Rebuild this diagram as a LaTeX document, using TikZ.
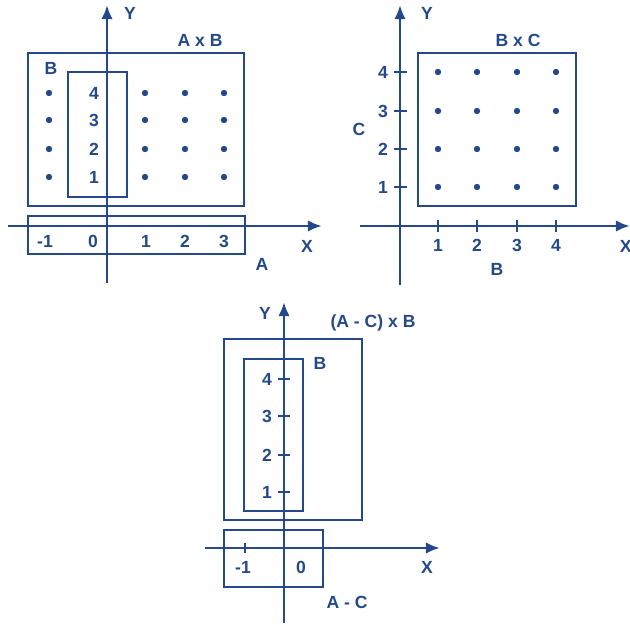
\documentclass[tikz,border=0pt]{standalone}
\usepackage{fontspec}
\setmainfont{Liberation Sans}
\usetikzlibrary{arrows.meta}
\definecolor{inkblue}{HTML}{23498C}
\tikzset{
  axis/.style={-{Latex[length=8pt,width=6.5pt]}, line width=1.5pt, draw=inkblue},
  setbox/.style={draw=inkblue, line width=1.5pt},
  tickmark/.style={draw=inkblue, line width=1.3pt},
  lbl/.style={text=inkblue, font=\fontsize{10}{12}\selectfont\bfseries, inner sep=0pt},
  dot/.style={fill=inkblue}
}

\begin{document}
\begin{tikzpicture}[x=0.02cm, y=-0.02cm]
  \useasboundingbox (0,0) rectangle (630,625);

  % A x B
  \draw[setbox] (28,53) rectangle (244,206);
  \draw[setbox] (68,72) rectangle (127,197);
  \draw[setbox] (28,216) rectangle (245,254);
  \coordinate (xs1) at (8,226);
  \coordinate (xe1) at (322,226);
  \coordinate (ys1) at (107,283);
  \coordinate (ye1) at (107,5);
  \draw[axis] (xs1) -- (xe1);
  \draw[axis] (ys1) -- (ye1);
  \node[lbl] (yname1) at (130,13) {Y};
  \node[lbl] (xname1) at (307,246) {X};
  \node[lbl] (axb) at (200,40) {A x B};
  \node[lbl] (bname1) at (51,68) {B};
  \node[lbl] (aname1) at (262,264) {A};
  \foreach \v/\y in {4/93,3/120,2/149,1/177}
    \node[lbl] (b\v) at (94,\y) {\v};
  \foreach \v/\x in {-1/45,0/93,1/146,2/185,3/224}
    \node[lbl] (a\v) at (\x,241) {\v};
  \foreach \x in {49,145,185,224}
    \foreach \y in {93,120,149,177}
      \fill[dot] (\x,\y) circle (3.2);

  % B x C
  \draw[setbox] (418,53) rectangle (576,206);
  \coordinate (xs2) at (360,226);
  \coordinate (xe2) at (630,226);
  \coordinate (ys2) at (400,285);
  \coordinate (ye2) at (400,5);
  \draw[axis] (xs2) -- (xe2);
  \draw[axis] (ys2) -- (ye2);
  \node[lbl] (yname2) at (427,13) {Y};
  \node[lbl, anchor=east] (xname2) at (632,246) {X};
  \node[lbl] (bxc) at (518,40) {B x C};
  \node[lbl] (cname2) at (359,129) {C};
  \node[lbl] (bname2) at (497,269) {B};
  \foreach \v/\y in {4/72,3/111,2/149,1/187} {
    \draw[tickmark] (394,\y) -- (407,\y);
    \node[lbl] (c\v) at (383,\y) {\v};
  }
  \foreach \v/\x in {1/438,2/477,3/517,4/556} {
    \draw[tickmark] (\x,220) -- (\x,232);
    \node[lbl] (bb\v) at (\x,245) {\v};
  }
  \foreach \x in {438,477,517,556}
    \foreach \y in {72,111,149,187}
      \fill[dot] (\x,\y) circle (3.2);

  % (A - C) x B
  \draw[setbox] (224,339) rectangle (362,520);
  \draw[setbox] (244,359) rectangle (303,511);
  \draw[setbox] (224,530) rectangle (323,587);
  \coordinate (xs3) at (205,548);
  \coordinate (xe3) at (440,548);
  \coordinate (ys3) at (284,623);
  \coordinate (ye3) at (284,302);
  \draw[axis] (xs3) -- (xe3);
  \draw[axis] (ys3) -- (ye3);
  \node[lbl] (yname3) at (265,313) {Y};
  \node[lbl] (xname3) at (427,567) {X};
  \node[lbl] (acxb) at (373,323) {(A - C) x B};
  \node[lbl] (bname3) at (320,363) {B};
  \node[lbl] (acname) at (347,602) {A - C};
  \foreach \v/\y in {4/379,3/416,2/455,1/492} {
    \draw[tickmark] (278,\y) -- (290,\y);
    \node[lbl] (d\v) at (267,\y) {\v};
  }
  \draw[tickmark] (245,543) -- (245,553);
  \node[lbl] (m1) at (243,567) {-1};
  \node[lbl] (m0) at (301,567) {0};
\end{tikzpicture}
\end{document}
